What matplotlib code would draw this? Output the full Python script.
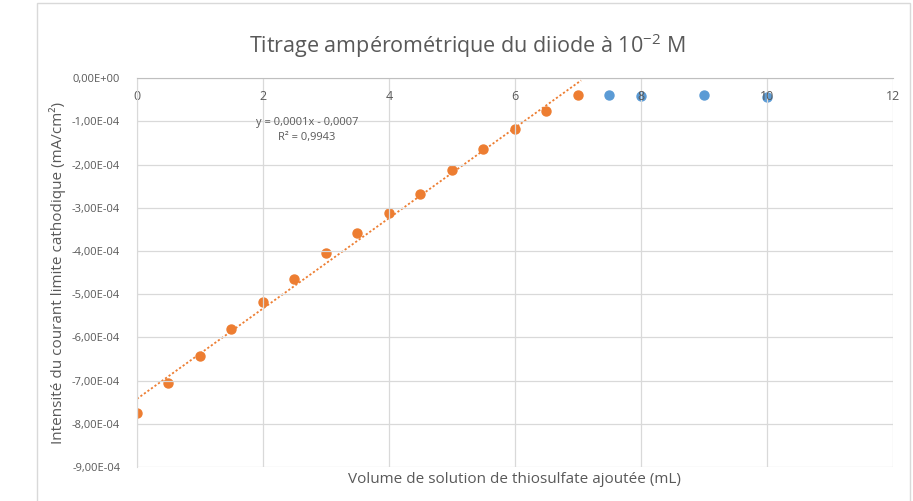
import matplotlib.pyplot as plt
import numpy as np
from matplotlib.patches import Rectangle
from matplotlib.ticker import FuncFormatter, MultipleLocator

plt.rcParams['font.family'] = ['Open Sans', 'DejaVu Sans']
plt.rcParams['mathtext.default'] = 'regular'

# series
vol_orange = np.array([0, 0.5, 1, 1.5, 2, 2.5, 3, 3.5, 4, 4.5, 5, 5.5, 6, 6.5, 7])
i_orange = np.array([-7.76, -7.06, -6.44, -5.81, -5.19, -4.65, -4.05, -3.59,
                     -3.13, -2.69, -2.13, -1.64, -1.18, -0.76, -0.39]) * 1e-4
vol_blue = np.array([7.5, 8, 9, 10])
i_blue = np.array([-0.40, -0.42, -0.40, -0.43]) * 1e-4

grey = '#595959'
fig = plt.figure(figsize=(9.13, 5.01), dpi=100)
ax = fig.add_axes([0.150, 0.068, 0.828, 0.776])

ax.scatter(vol_blue, i_blue, s=42, color='#5B9BD5', zorder=1)
ax.scatter(vol_orange, i_orange, s=42, color='#ED7D31', zorder=1)

# linear trendline over the orange series
a, b = np.polyfit(vol_orange, i_orange, 1)
xt = np.array([0, 7.05])
ax.plot(xt, a * xt + b, ls=(0, (1.2, 1.2)), color='#ED7D31', lw=1.3, zorder=1)
ax.text(2.7, -1.2e-4, 'y = 0,0001x - 0,0007\nR² = 0,9943', ha='center', va='center',
        fontsize=8, color=grey, linespacing=1.6)

ax.set_xlim(0, 12)
ax.set_ylim(-9e-4, 0)
ax.xaxis.set_major_locator(MultipleLocator(2))
ax.yaxis.set_major_locator(MultipleLocator(1e-4))
ax.yaxis.set_major_formatter(FuncFormatter(lambda v, p: f'{v:.2E}'.replace('.', ',').replace('-0,00', '0,00')))
ax.xaxis.tick_top()
ax.tick_params(axis='x', length=0, pad=-18, labelsize=9, labelcolor=grey)
ax.tick_params(axis='y', length=0, pad=12, labelsize=8, labelcolor=grey)
ax.grid(True, color='#d9d9d9', lw=0.9, zorder=0)
for gl in ax.get_xgridlines() + ax.get_ygridlines():
    gl.set_zorder(0)
for s in ['right', 'bottom']:
    ax.spines[s].set_visible(False)
ax.spines['left'].set_color('#d9d9d9')
ax.spines['top'].set_color('#bfbfbf')

ax.set_xlabel('Volume de solution de thiosulfate ajoutée (mL)', fontsize=11, color=grey, labelpad=4)
ax.xaxis.set_label_position('bottom')
ax.set_ylabel('Intensité du courant limite cathodique (mA/cm²)', fontsize=11, color=grey, labelpad=4)
fig.text(0.512, 0.908, 'Titrage ampérométrique du diiode à 10$^{-2}$ M', ha='center', va='center',
         fontsize=15.5, color=grey)

fig.patches.append(Rectangle((37 / 913, -0.01), 873 / 913, 1.004, transform=fig.transFigure,
                             fill=False, edgecolor='#d9d9d9', lw=1))

fig.savefig('out.png', dpi=100)
